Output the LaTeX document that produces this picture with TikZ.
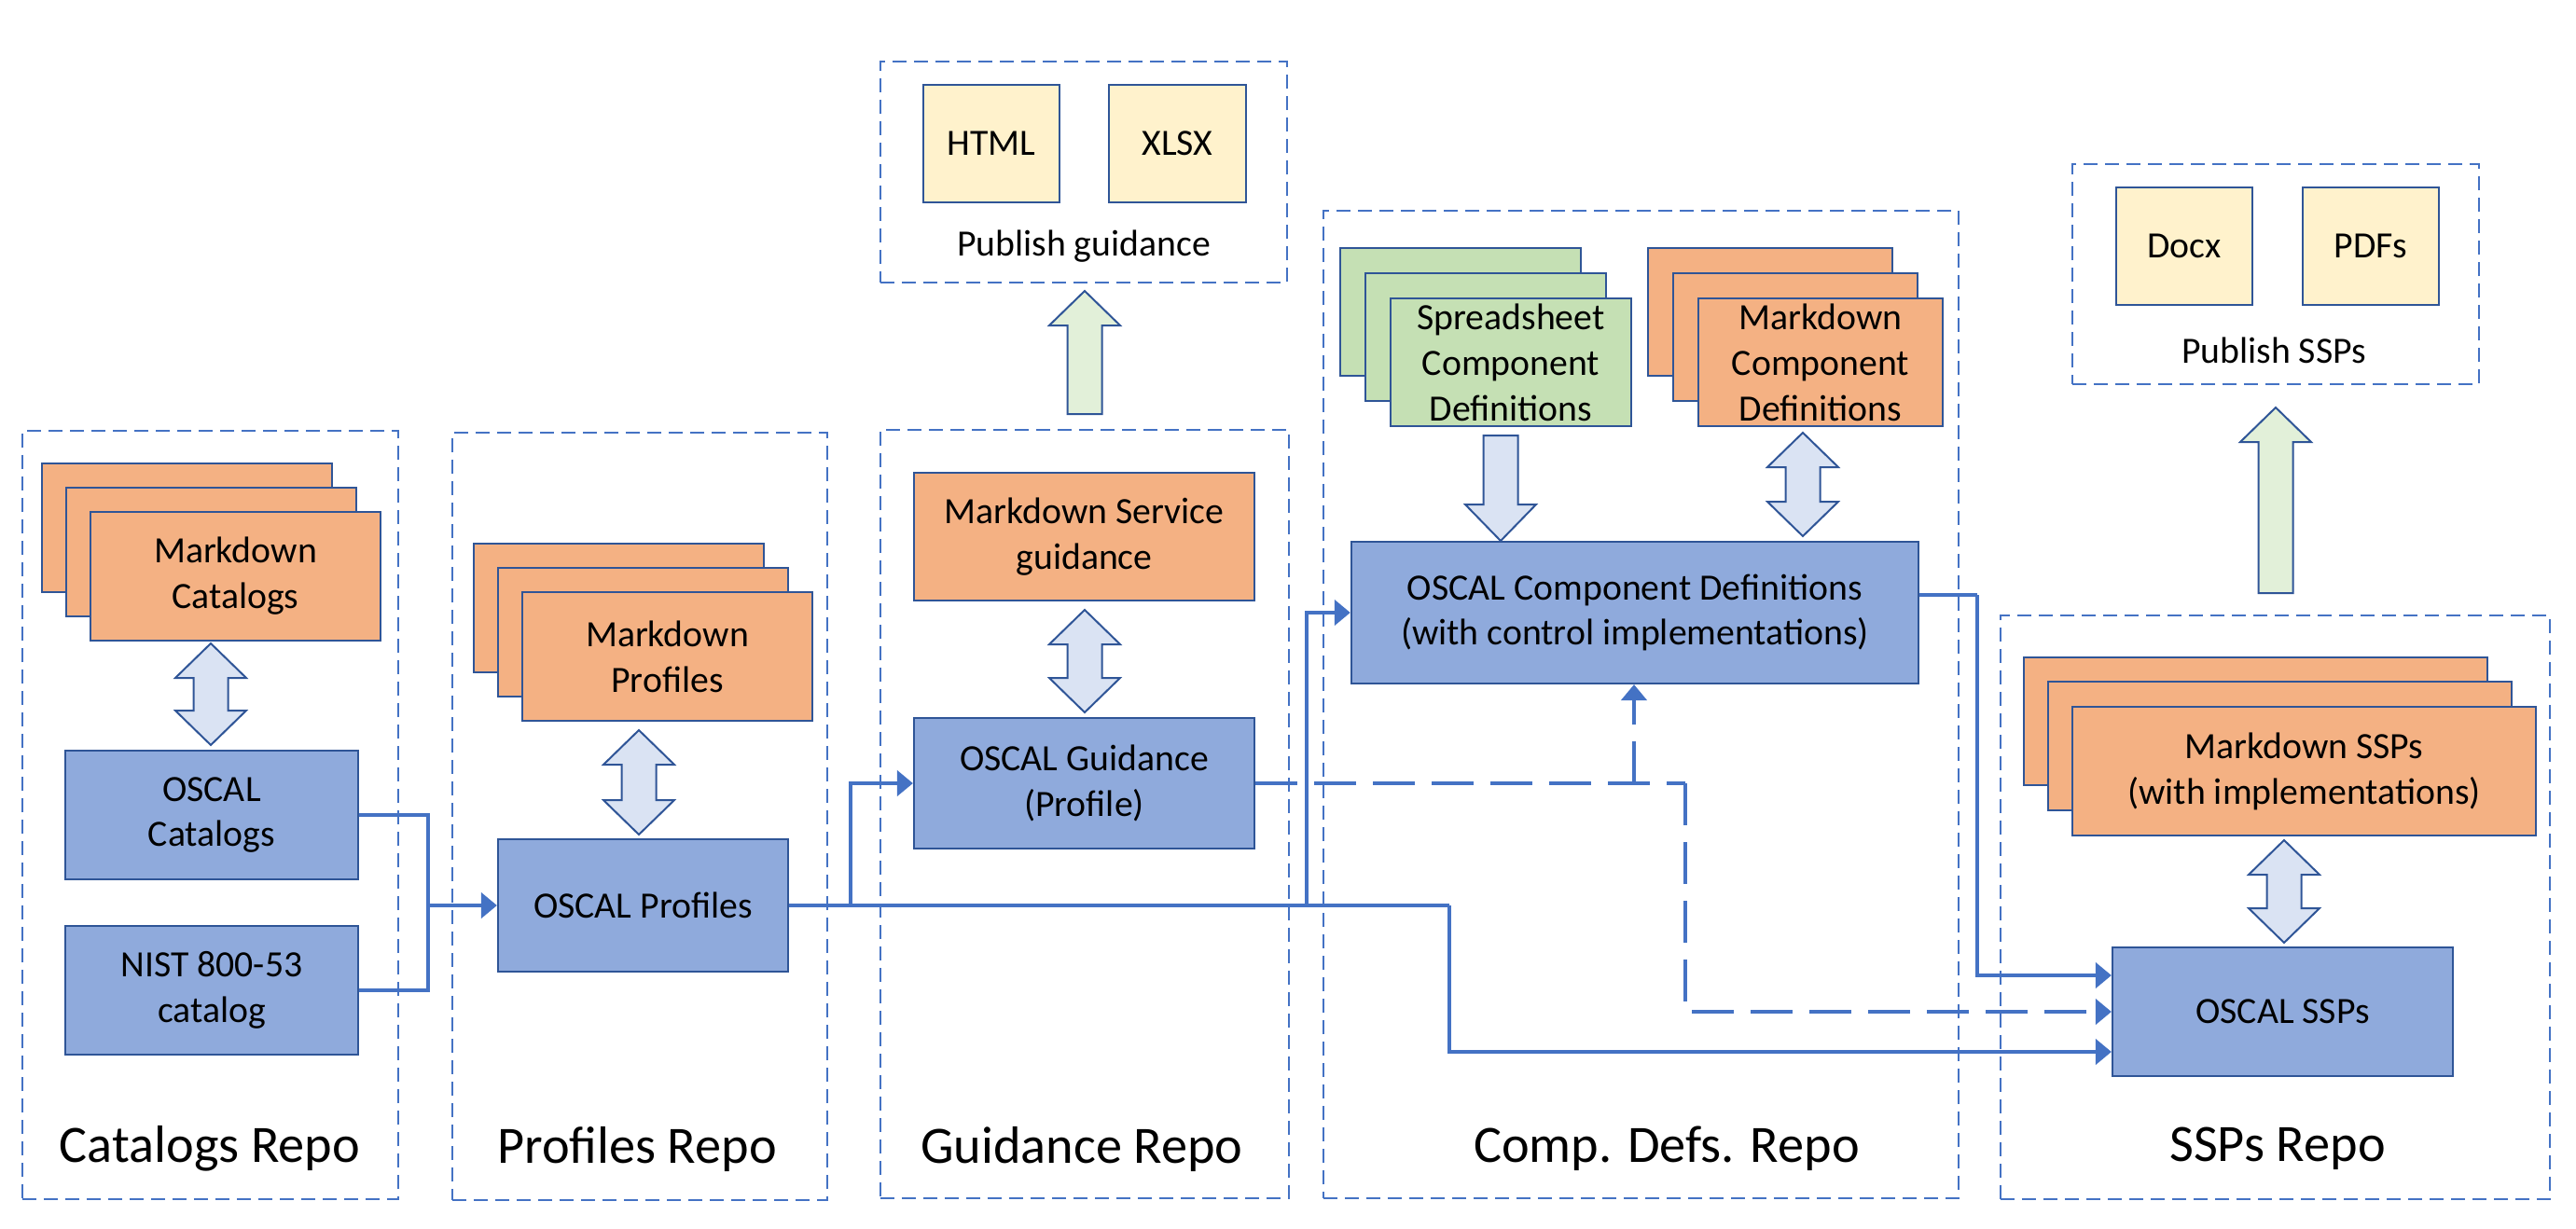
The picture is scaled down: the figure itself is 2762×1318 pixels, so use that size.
\documentclass[tikz,border=0pt]{standalone}
\usepackage{fontspec}
\setmainfont{Carlito}
\usetikzlibrary{arrows.meta,calc}
\definecolor{orng}{HTML}{F4B183}
\definecolor{blu}{HTML}{8FAADC}
\definecolor{yel}{HTML}{FFF2CC}
\definecolor{grn}{HTML}{C5E0B4}
\definecolor{bordc}{HTML}{2F5597}
\definecolor{dashc}{HTML}{4472C4}
\definecolor{connc}{HTML}{4472C4}
\definecolor{ltblu}{HTML}{DAE3F3}
\definecolor{ltgrn}{HTML}{E2F0D9}
\newcommand{\fatdbl}[3]{\draw[fatarrow,fill=ltblu] (#1,#2) -- ({#1+38},{#2+37}) -- ({#1+18.5},{#2+37}) -- ({#1+18.5},{#3-37}) -- ({#1+38},{#3-37}) -- (#1,#3) -- ({#1-38},{#3-37}) -- ({#1-18.5},{#3-37}) -- ({#1-18.5},{#2+37}) -- ({#1-38},{#2+37}) -- cycle;}
\newcommand{\fatup}[3]{\draw[fatarrow,fill=ltgrn] (#1,#2) -- ({#1+38},{#2+37}) -- ({#1+18.5},{#2+37}) -- ({#1+18.5},#3) -- ({#1-18.5},#3) -- ({#1-18.5},{#2+37}) -- ({#1-38},{#2+37}) -- cycle;}
\newcommand{\fatdown}[3]{\draw[fatarrow,fill=ltblu] ({#1-18.5},#2) -- ({#1+18.5},#2) -- ({#1+18.5},{#3-39}) -- ({#1+38},{#3-39}) -- (#1,#3) -- ({#1-38},{#3-39}) -- ({#1-18.5},{#3-39}) -- cycle;}
\begin{document}
\begin{tikzpicture}[x=0.01cm,y=-0.01cm,
  box/.style={draw=bordc, line width=0.02cm, inner sep=0pt, align=center, text=black, font=\fontsize{11.3}{13.9}\selectfont},
  orangebox/.style={box, fill=orng},
  bluebox/.style={box, fill=blu},
  yelbox/.style={box, fill=yel},
  greenbox/.style={box, fill=grn},
  repo/.style={draw=dashc, line width=0.02cm, dash pattern=on 0.15cm off 0.08cm, inner sep=0pt},
  repolabel/.style={font=\fontsize{16}{19}\selectfont, inner sep=0pt},
  conn/.style={draw=connc, line width=0.042cm},
  arr/.style={-{Triangle[length=0.17cm,width=0.27cm]}},
  ldash/.style={dash pattern=on 0.45cm off 0.18cm},
  fatarrow/.style={draw=bordc, line width=0.02cm, line join=miter}
]
\useasboundingbox (0,0) rectangle (2762,1318);

% repo boxes
\node[repo, minimum width=4.03cm, minimum height=8.24cm] (catrepo) at (225.5,874) {};
\node[repo, minimum width=4.02cm, minimum height=8.23cm] (profrepo) at (686,875.5) {};
\node[repo, minimum width=4.38cm, minimum height=8.24cm] (guidrepo) at (1163,873) {};
\node[repo, minimum width=6.81cm, minimum height=10.59cm] (comprepo) at (1759.5,755.5) {};
\node[repo, minimum width=5.89cm, minimum height=6.26cm] (ssprepo) at (2439.5,973) {};
\node[repo, minimum width=4.36cm, minimum height=2.37cm] (pubguid) at (1162,184.5) {};
\node[repo, minimum width=4.36cm, minimum height=2.36cm] (pubssp) at (2440,294) {};

% repo labels
\node[repolabel] (catlbl) at (225,1232) {Catalogs Repo};
\node[repolabel] (proflbl) at (683,1232) {Profiles Repo};
\node[repolabel] (guidlbl) at (1160,1232) {Guidance Repo};
\node[repolabel] (complbl) at (1787,1232) {Comp. Defs. Repo};
\node[repolabel] (ssplbl) at (2442,1232) {SSPs Repo};
\node[font=\fontsize{11.3}{13.9}\selectfont] (pubguidlbl) at (1162,264) {Publish guidance};
\node[font=\fontsize{11.3}{13.9}\selectfont] (pubssplbl) at (2438,376) {Publish SSPs};

% publish outputs
\node[yelbox, minimum width=1.46cm, minimum height=1.26cm] (html) at (1063,154) {HTML};
\node[yelbox, minimum width=1.47cm, minimum height=1.26cm] (xlsx) at (1262.5,154) {XLSX};
\node[yelbox, minimum width=1.46cm, minimum height=1.26cm] (docx) at (2342,264) {Docx};
\node[yelbox, minimum width=1.46cm, minimum height=1.26cm] (pdfs) at (2542,264) {PDFs};

% catalogs
\node[orangebox, minimum width=3.11cm, minimum height=1.38cm] (mdcat3) at (200.5,566) {};
\node[orangebox, minimum width=3.11cm, minimum height=1.38cm] (mdcat2) at (226.5,592) {};
\node[orangebox, minimum width=3.11cm, minimum height=1.38cm] (mdcat) at (252.5,618) {Markdown\\Catalogs};
\node[bluebox, minimum width=3.14cm, minimum height=1.38cm] (oscat) at (227,874) {OSCAL\\Catalogs};
\node[bluebox, minimum width=3.14cm, minimum height=1.37cm] (nist) at (227,1062) {NIST 800-53\\catalog};

% profiles
\node[orangebox, minimum width=3.11cm, minimum height=1.38cm] (mdprof3) at (663.5,652) {};
\node[orangebox, minimum width=3.11cm, minimum height=1.38cm] (mdprof2) at (689.5,678) {};
\node[orangebox, minimum width=3.11cm, minimum height=1.38cm] (mdprof) at (715.5,704) {Markdown\\Profiles};
\node[bluebox, minimum width=3.11cm, minimum height=1.42cm] (oscprof) at (689.5,971) {OSCAL Profiles};

% guidance
\node[orangebox, minimum width=3.65cm, minimum height=1.37cm] (mdguid) at (1162.5,575.5) {Markdown Service\\guidance};
\node[bluebox, minimum width=3.65cm, minimum height=1.39cm] (oscguid) at (1162.5,840) {OSCAL Guidance\\(Profile)};

% component definitions
\node[greenbox, minimum width=2.58cm, minimum height=1.37cm] (ss3) at (1566,334.5) {};
\node[greenbox, minimum width=2.58cm, minimum height=1.37cm] (ss2) at (1593,361.5) {};
\node[greenbox, minimum width=2.58cm, minimum height=1.37cm] (ss) at (1620,388.5) {Spreadsheet\\Component\\Definitions};
\node[orangebox, minimum width=2.62cm, minimum height=1.37cm] (mdcomp3) at (1898,334.5) {};
\node[orangebox, minimum width=2.62cm, minimum height=1.37cm] (mdcomp2) at (1925,361.5) {};
\node[orangebox, minimum width=2.62cm, minimum height=1.37cm] (mdcomp) at (1952,388.5) {Markdown\\Component\\Definitions};
\node[bluebox, minimum width=6.08cm, minimum height=1.52cm] (osccomp) at (1753,657) {OSCAL Component Definitions\\(with control implementations)};

% SSPs
\node[orangebox, minimum width=4.97cm, minimum height=1.37cm] (mdssp3) at (2418.5,773.5) {};
\node[orangebox, minimum width=4.97cm, minimum height=1.37cm] (mdssp2) at (2444.5,800) {};
\node[orangebox, minimum width=4.97cm, minimum height=1.37cm] (mdssp) at (2470.5,827) {Markdown SSPs\\(with implementations)};
\node[bluebox, minimum width=3.65cm, minimum height=1.38cm] (osssp) at (2447.5,1085) {OSCAL SSPs};

% block arrows
\fatdbl{226}{690}{799}
\fatdbl{685}{783}{895}
\fatdbl{1163}{654}{764}
\fatdbl{1933}{464}{575}
\fatdbl{2449}{901}{1011}
\fatup{1163}{312}{444}
\fatup{2440}{437}{636}
\fatdown{1609}{467}{580}

% connectors
\coordinate (jcat) at (459,971);
\coordinate (jguid) at (912,971);
\coordinate (jcomp) at (1401,971);
\coordinate (jdown) at (1554,971);
\coordinate (jcd) at (2120,638);
\coordinate (jgd) at (1752,840);
\coordinate (jgd2) at (1807,840);
\draw[conn] (oscat.east) -| (jcat);
\draw[conn] (nist.east) -| (jcat);
\draw[conn,arr] (jcat) -- (oscprof.west);
\draw[conn] (oscprof.east) -- (jdown);
\draw[conn,arr] (jdown) |- ($(osssp.west)+(0,43)$);
\draw[conn,arr] (jguid) |- (oscguid.west);
\draw[conn,arr] (jcomp) |- (osccomp.west);
\draw[conn] ($(osccomp.east)+(0,-19)$) -- (jcd);
\draw[conn,arr] (jcd) |- ($(osssp.west)+(0,-39)$);
\draw[conn,ldash] (oscguid.east) -- (jgd2);
\draw[conn,ldash,arr] (jgd2) |- (osssp.west);
\draw[conn,ldash,arr] (jgd) -- (osccomp.south -| jgd);
\end{tikzpicture}
\end{document}
